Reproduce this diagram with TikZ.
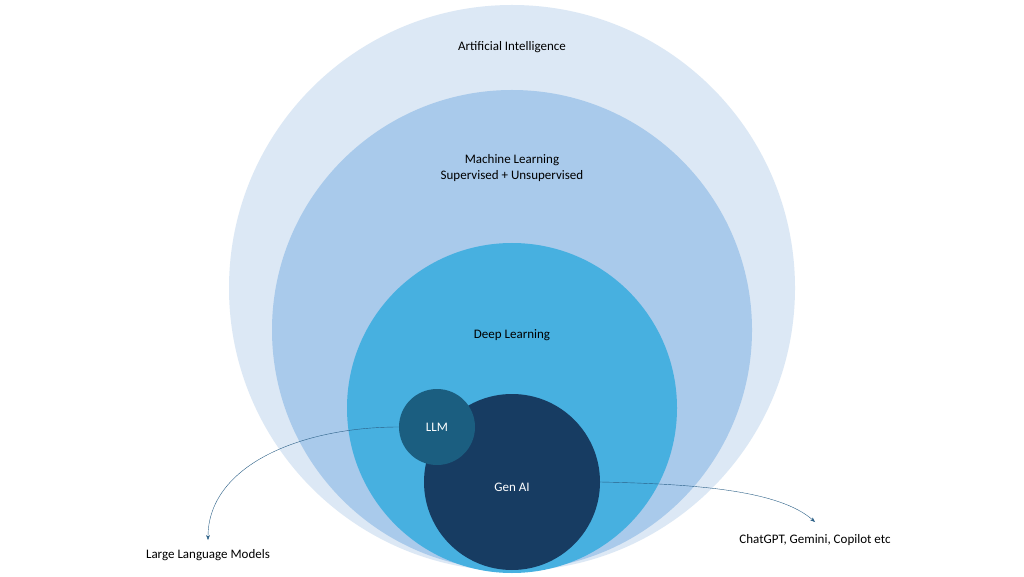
\documentclass[tikz,border=0pt]{standalone}
\usepackage{fontspec}
\setmainfont{Carlito}
\usetikzlibrary{arrows.meta}
\definecolor{aiblue}{HTML}{DCE8F5}
\definecolor{mlblue}{HTML}{A9CAEB}
\definecolor{dlblue}{HTML}{47B0E0}
\definecolor{llmblue}{HTML}{1B5E80}
\definecolor{genblue}{HTML}{173C62}
\definecolor{arrowblue}{HTML}{2A5F86}
\begin{document}
\begin{tikzpicture}[x=1pt,y=1pt,
  ring/.style={circle, draw=none, inner sep=0pt},
  lbl/.style={font=\fontsize{13}{16}\selectfont, text=black, align=center},
  callout/.style={draw=arrowblue, thin, -{Stealth[length=5pt]}}]

  \useasboundingbox (0,0) rectangle (1024,576);
  \fill[white] (0,0) rectangle (1024,576);

  %% nested circles
  \node[ring, fill=aiblue, minimum size=566] (ai) at (512,288) {};
  \node[ring, fill=mlblue, minimum size=480] (ml) at (512,246) {};
  \node[ring, fill=dlblue, minimum size=330] (dl) at (512,168) {};
  \node[ring, fill=genblue, minimum size=176] (gen) at (512,94) {};
  \node[ring, fill=llmblue, minimum size=76] (llm) at (437,149) {};

  %% labels
  \node[lbl] (ailbl) at (512,529) {Artificial Intelligence};
  \node[lbl] (mllbl) at (512,408) {Machine Learning\\Supervised + Unsupervised};
  \node[lbl] (dllbl) at (512,241) {Deep Learning};
  \node[lbl, text=white] (llmlbl) at (llm) {LLM};
  \node[lbl, text=white] (genlbl) at (512,89) {Gen AI};

  \node[lbl] (lmtext) at (208,21) {Large Language Models};
  \node[lbl] (chattext) at (815,36) {ChatGPT, Gemini, Copilot etc};

  %% callouts
  \coordinate (lmtip) at (208,36);
  \coordinate (chattip) at (815,54);
  \draw[callout] (llm.west) .. controls (300,149) and (208,110) .. (lmtip);
  \draw[callout] (gen.east) .. controls (700,92) and (780,85) .. (chattip);
\end{tikzpicture}
\end{document}
